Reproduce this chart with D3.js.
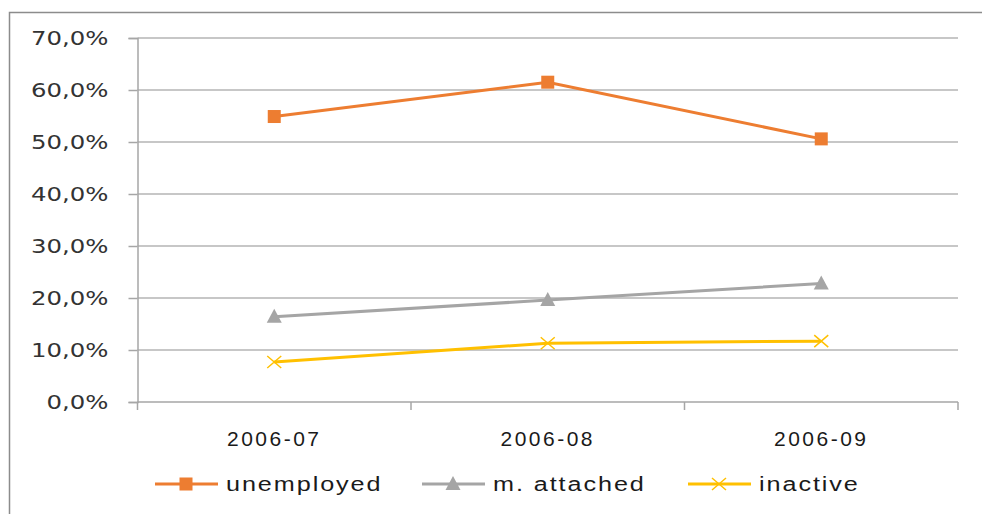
<!DOCTYPE html>
<html>
<head>
<meta charset="utf-8">
<script src="https://cdn.jsdelivr.net/npm/d3@7"></script>
<style>
  html, body { margin: 0; padding: 0; background: #fff; }
  svg { display: block; }
</style>
</head>
<body>
<svg id="chart" width="982" height="514"></svg>
<script>
// Monthly shares by labour-market status
const months = ["2006-07", "2006-08", "2006-09"];
const unemployed = [54.9, 61.5, 50.6];
const attached = [16.4, 19.6, 22.8];
const inactive = [7.7, 11.3, 11.7];
const yTicks = [0, 10, 20, 30, 40, 50, 60, 70];
const seriesNames = ["unemployed", "m. attached", "inactive"];

const series = [
  { name: seriesNames[0], values: unemployed, color: "#ED7D31", marker: "square" },
  { name: seriesNames[1], values: attached, color: "#A5A5A5", marker: "triangle" },
  { name: seriesNames[2], values: inactive, color: "#FFC000", marker: "cross" }
];

const svg = d3.select("#chart");
const plotLeft = 137.5, plotRight = 958, plotTop = 38, plotBottom = 402;
const narrowFont = "'Liberation Sans Narrow', 'Arial Narrow', sans-serif";

// outer chart frame (top and left edges visible)
svg.append("path")
  .attr("d", "M9.5,514 L9.5,12.5 L982,12.5")
  .attr("fill", "none").attr("stroke", "#8c8c8c").attr("stroke-width", 1.5);

const x = d3.scaleBand().domain(months).range([plotLeft, plotRight]);
const y = d3.scaleLinear().domain([0, 70]).range([plotBottom, plotTop]);

const fmt = v => v.toFixed(1).replace(".", ",") + "%";

// horizontal gridlines
svg.append("g").selectAll("line").data(yTicks.filter(d => d > 0)).join("line")
  .attr("x1", plotLeft).attr("x2", plotRight)
  .attr("y1", d => y(d)).attr("y2", d => y(d))
  .attr("stroke", "#b4b4b4").attr("stroke-width", 1.5);

// y axis; labels are widened horizontally
const labelStretch = 1.25;
const yAxis = svg.append("g").attr("transform", `translate(${plotLeft},0)`)
  .call(d3.axisLeft(y).tickValues(yTicks).tickFormat(fmt).tickSize(9).tickPadding(20));
yAxis.select(".domain").attr("stroke", "#a6a6a6").attr("stroke-width", 1.5);
yAxis.selectAll(".tick line").attr("stroke", "#a6a6a6").attr("stroke-width", 1.5);
yAxis.selectAll("text")
  .attr("x", -29 / labelStretch)
  .attr("transform", `scale(${labelStretch},1)`)
  .style("font-family", "'DejaVu Sans', Verdana, sans-serif")
  .style("font-size", "19.5px").attr("fill", "#333");

// x axis with ticks between categories
const xAxis = svg.append("g").attr("transform", `translate(0,${plotBottom})`);
xAxis.append("line").attr("x1", plotLeft).attr("x2", plotRight).attr("y1", 0).attr("y2", 0)
  .attr("stroke", "#a6a6a6").attr("stroke-width", 1.5);
const bounds = months.map(m => x(m)).concat([plotRight]);
xAxis.selectAll("line.tk").data(bounds).join("line").attr("class", "tk")
  .attr("x1", d => d).attr("x2", d => d).attr("y1", 0).attr("y2", 8)
  .attr("stroke", "#a6a6a6").attr("stroke-width", 1.5);
xAxis.selectAll("text").data(months).join("text")
  .attr("x", d => x(d) + x.bandwidth() / 2).attr("y", 44)
  .attr("text-anchor", "middle")
  .style("font-family", narrowFont)
  .style("font-size", "21px").attr("letter-spacing", 2.5).attr("fill", "#1a1a1a")
  .text(d => d);

const cx = d => x(d) + x.bandwidth() / 2;

function drawMarker(g, type, color, px, py) {
  if (type === "square") {
    g.append("rect").attr("x", px - 6.5).attr("y", py - 6.5).attr("width", 13).attr("height", 13)
      .attr("fill", color);
  } else if (type === "triangle") {
    g.append("path").attr("d", `M${px},${py - 8} L${px + 7.5},${py + 6} L${px - 7.5},${py + 6} Z`)
      .attr("fill", color);
  } else {
    g.append("path").attr("d", `M${px - 7},${py - 6} L${px + 7},${py + 6} M${px - 7},${py + 6} L${px + 7},${py - 6}`)
      .attr("stroke", color).attr("stroke-width", 1.5).attr("fill", "none");
  }
}

const line = d3.line().x((d, i) => cx(months[i])).y(d => y(d));

series.forEach(s => {
  const g = svg.append("g");
  g.append("path").datum(s.values).attr("d", line)
    .attr("fill", "none").attr("stroke", s.color).attr("stroke-width", 3);
  s.values.forEach((v, i) => drawMarker(g, s.marker, s.color, cx(months[i]), y(v)));
});

// legend
const legendX = [155, 422, 688];
const legendY = 484;
series.forEach((s, i) => {
  const g = svg.append("g");
  const x0 = legendX[i];
  g.append("line").attr("x1", x0).attr("x2", x0 + 63).attr("y1", legendY).attr("y2", legendY)
    .attr("stroke", s.color).attr("stroke-width", 3);
  drawMarker(g, s.marker, s.color, x0 + 31, legendY);
  g.append("text")
    .attr("transform", `translate(${x0 + 71},${legendY + 7}) scale(1.2,1)`)
    .style("font-family", narrowFont)
    .style("font-size", "21px").attr("letter-spacing", 1.6).attr("fill", "#1a1a1a")
    .text(s.name);
});
</script>
</body>
</html>
